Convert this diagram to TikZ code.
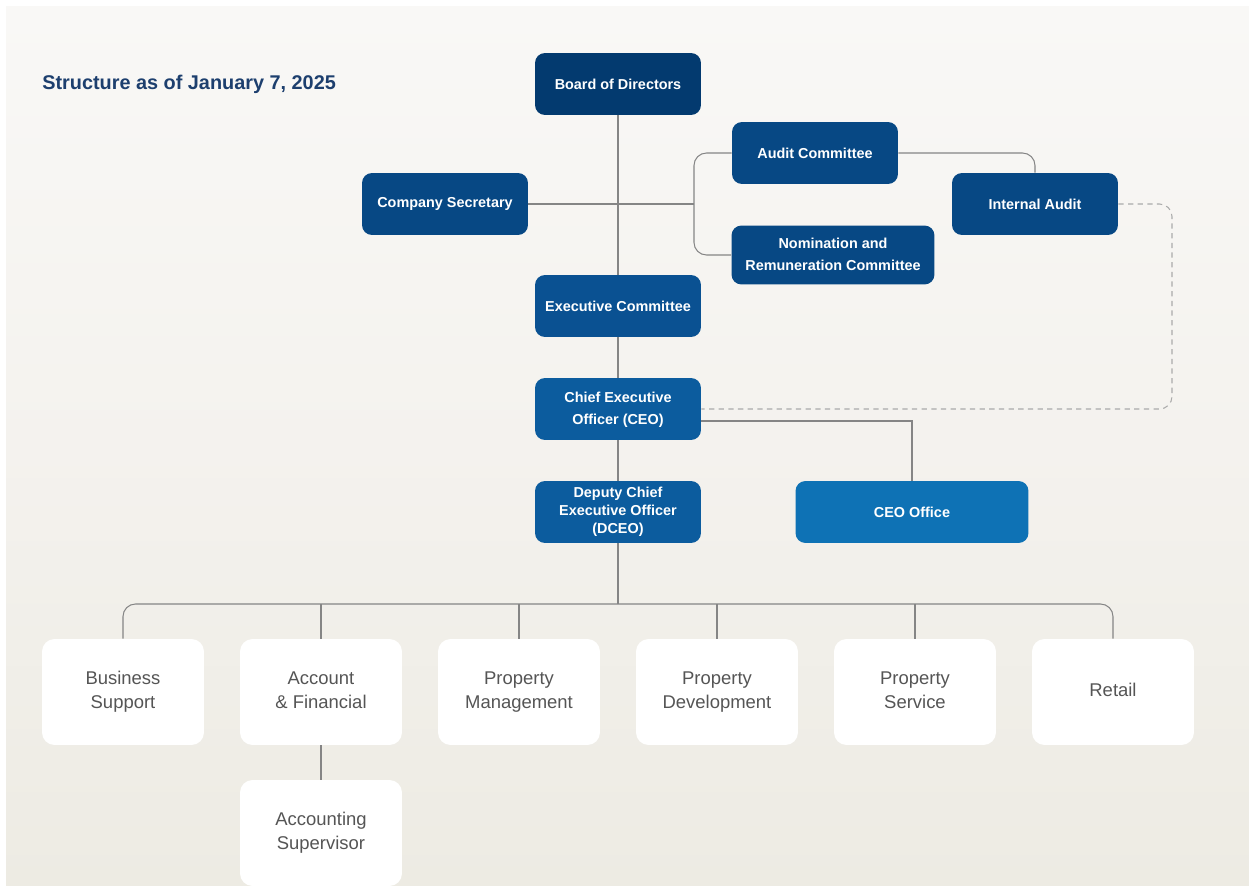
\documentclass[tikz,border=0pt]{standalone}
\usepackage{fontspec}
\setmainfont{Liberation Sans}
\usepackage{tikz}
\usetikzlibrary{positioning}

\definecolor{navyA}{HTML}{033A6F}
\definecolor{navyB}{HTML}{074884}
\definecolor{navyC}{HTML}{0A5192}
\definecolor{navyE}{HTML}{0C5C9E}
\definecolor{blueD}{HTML}{0E72B5}
\definecolor{titleblue}{HTML}{1D3F6E}
\definecolor{linegray}{HTML}{858585}
\definecolor{unittext}{HTML}{555555}
\definecolor{bgtop}{HTML}{F9F8F6}
\definecolor{bgmid}{HTML}{F4F2EE}
\definecolor{bgbot}{HTML}{EDEBE3}

\begin{document}
\begin{tikzpicture}[x=0.02cm, y=-0.02cm,
    board/.style={draw=none, rounded corners=0.2cm, text=white, align=center,
        font=\bfseries\fontsize{8.2}{10.3}\selectfont, minimum width=3.32cm, minimum height=1.24cm, inner sep=2pt},
    wide/.style={font=\bfseries\fontsize{8.2}{12.7}\selectfont},
    unit/.style={draw=none, fill=white, rounded corners=0.25cm, text=unittext, align=center,
        font=\fontsize{10.5}{13.6}\selectfont, minimum width=3.24cm, minimum height=2.12cm},
    link/.style={draw=linegray, line width=0.6pt}]
    % 背景
    \useasboundingbox (0,0) rectangle (1249,886);
    \fill[white] (0,0) rectangle (1249,886);
    \shade[top color=bgtop, bottom color=bgbot, middle color=bgmid] (6,6) rectangle (1249,886);
    % 标题
    \node[anchor=west, inner sep=0pt, text=titleblue, font=\bfseries\fontsize{11.3}{13}\selectfont] (title) at (42,84) {Structure as of January 7, 2025};
    % 董事会及委员会
    \node[board, fill=navyA] (bod) at (618,84) {Board of Directors};
    \node[board, fill=navyB] (sec) at (445,204) {Company Secretary};
    \node[board, fill=navyB] (audit) at (815,153) {Audit Committee};
    \node[board, wide, fill=navyB, minimum width=4.06cm, minimum height=1.18cm] (nom) at (833,255) {\strut Nomination and\\Remuneration Committee\strut};
    \node[board, fill=navyB] (ia) at (1035,204) {Internal Audit};
    \node[board, fill=navyC] (exec) at (618,306) {Executive Committee};
    \node[board, wide, fill=navyE] (ceo) at (618,409) {\strut Chief Executive\\Officer (CEO)\strut};
    \node[board, fill=navyE] (dceo) at (618,512) {\strut Deputy Chief\\Executive Officer\\(DCEO)\strut};
    \node[board, fill=blueD, minimum width=4.66cm] (office) at (912,512) {CEO Office};
    % 部门
    \foreach \name [count=\i] in {Business\\Support, Account\\\& Financial, Property\\Management,
        Property\\Development, Property\\Service, Retail} {
        \node[unit] (u\i) at ({123+198*(\i-1)},692) {\strut\name\strut};
    }
    \node[unit] (sup) at (321,833) {\strut Accounting\\Supervisor\strut};
    % 连线
    \coordinate (brk) at (694,204);
    \coordinate (dsh) at (1172,300);
    \coordinate (bus) at (618,604);
    \draw[link] (bod.south) -- (exec.north);
    \draw[link] (sec.east) -- (brk);
    \draw[link, rounded corners=0.25cm] (audit.west) -| (brk) |- (nom.west);
    \draw[link, rounded corners=0.25cm] (audit.east) -| (ia.north);
    \draw[linegray!70, line width=0.6pt, dash pattern=on 3pt off 2.5pt, rounded corners=0.25cm] (ia.east) -| (dsh) |- (ceo.east);
    \draw[link] (exec.south) -- (ceo.north);
    \draw[link] (ceo.south) -- (dceo.north);
    \draw[link] ([yshift=-0.24cm]ceo.east) -| (office.north);
    \draw[link] (dceo.south) -- (bus);
    \draw[link, rounded corners=0.25cm] (u1.north) |- (bus) -| (u6.north);
    \foreach \i in {2,...,5} {
        \draw[link] (u\i.north) -- (u\i.north |- bus);
    }
    \draw[link] (u2.south) -- (sup.north);
\end{tikzpicture}
\end{document}
